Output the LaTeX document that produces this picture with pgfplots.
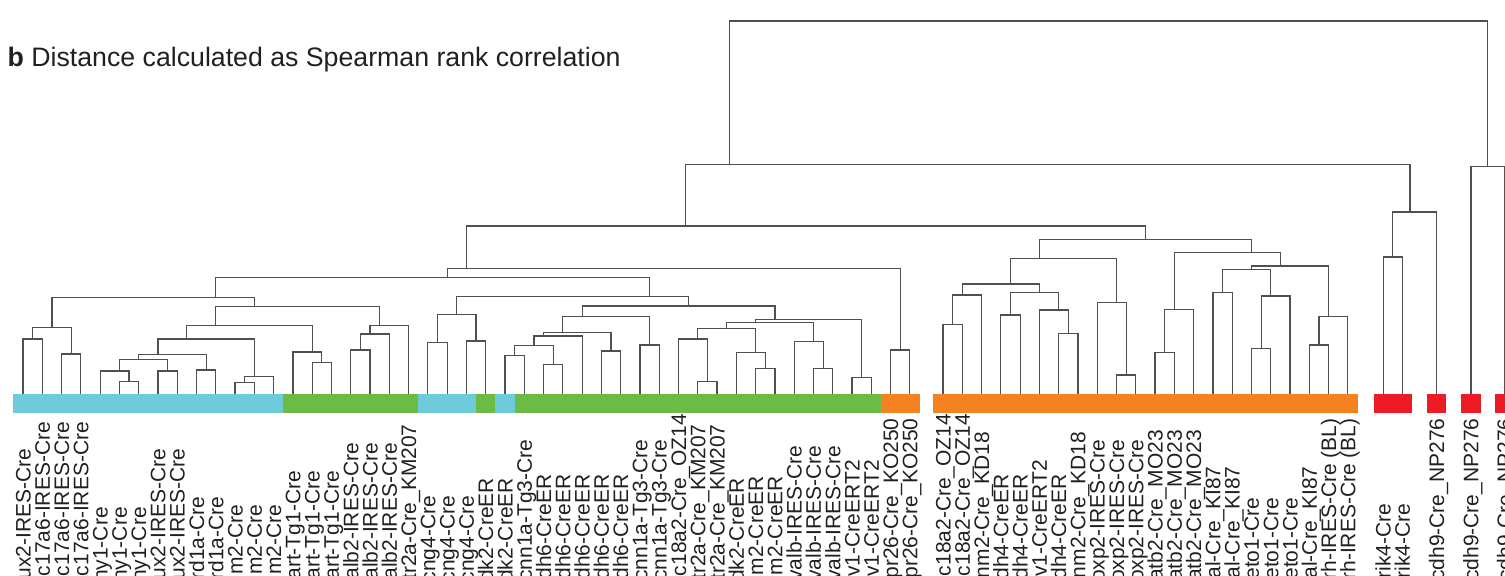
\documentclass[border=0pt]{standalone}
\usepackage{fontspec}
\setmainfont{Liberation Sans}
\usepackage{pgfplots}
\pgfplotsset{compat=1.18}
\definecolor{cyanc}{RGB}{109,203,220}
\definecolor{greenc}{RGB}{108,187,69}
\definecolor{orangec}{RGB}{245,130,33}
\definecolor{redc}{RGB}{237,28,36}
\definecolor{treec}{RGB}{80,80,80}
\definecolor{txtc}{RGB}{35,31,32}
\newcommand\lab{\fontsize{21bp}{25bp}\selectfont}
\newcommand\ttl{\fontsize{26.7bp}{30bp}\selectfont}
\begin{document}
\begin{tikzpicture}
\path[use as bounding box] (0,0) rectangle (1505bp,576bp);
\begin{axis}[at={(0,0)}, anchor=south west, x=19.28bp, y=1bp,
  xmin=-0.1929, xmax=77.867, ymin=0, ymax=576, y dir=reverse,
  hide axis, clip=false,
  tree/.style={draw=treec, line width=1.2bp, line join=miter}]
% colour bar
\addplot[fill=cyanc, draw=none] coordinates {(0.5,394)(14.5,394)(14.5,412.5)(0.5,412.5)};
\addplot[fill=greenc, draw=none] coordinates {(14.5,394)(21.5,394)(21.5,412.5)(14.5,412.5)};
\addplot[fill=cyanc, draw=none] coordinates {(21.5,394)(24.5,394)(24.5,412.5)(21.5,412.5)};
\addplot[fill=greenc, draw=none] coordinates {(24.5,394)(25.5,394)(25.5,412.5)(24.5,412.5)};
\addplot[fill=cyanc, draw=none] coordinates {(25.5,394)(26.5,394)(26.5,412.5)(25.5,412.5)};
\addplot[fill=greenc, draw=none] coordinates {(26.5,394)(45.5,394)(45.5,412.5)(26.5,412.5)};
\addplot[fill=orangec, draw=none] coordinates {(45.5,394)(47.5,394)(47.5,412.5)(45.5,412.5)};
\addplot[fill=orangec, draw=none] coordinates {(48.218,394)(70.218,394)(70.218,412.5)(48.218,412.5)};
\addplot[fill=redc, draw=none] coordinates {(71.05,394)(73.05,394)(73.05,412.5)(71.05,412.5)};
\addplot[fill=redc, draw=none] coordinates {(73.82,394)(74.82,394)(74.82,412.5)(73.82,412.5)};
\addplot[fill=redc, draw=none] coordinates {(75.6,394)(76.6,394)(76.6,412.5)(75.6,412.5)};
\addplot[fill=redc, draw=none] coordinates {(77.35,394)(78.35,394)(78.35,412.5)(77.35,412.5)};
% section A
\addplot[tree] coordinates {(1,394)(1,339)(2,339)(2,394)};
\addplot[tree] coordinates {(3,394)(3,354)(4,354)(4,394)};
\addplot[tree] coordinates {(1.5,339)(1.5,327.3)(3.5,327.3)(3.5,354)};
\addplot[tree] coordinates {(6,394)(6,381.7)(7,381.7)(7,394)};
\addplot[tree] coordinates {(5,394)(5,371)(6.5,371)(6.5,381.7)};
\addplot[tree] coordinates {(8,394)(8,371)(9,371)(9,394)};
\addplot[tree] coordinates {(6,371)(6,359.3)(8.5,359.3)(8.5,371)};
\addplot[tree] coordinates {(10,394)(10,370)(11,370)(11,394)};
\addplot[tree] coordinates {(7,359.3)(7,354.3)(10.5,354.3)(10.5,370)};
\addplot[tree] coordinates {(12,394)(12,382.3)(13,382.3)(13,394)};
\addplot[tree] coordinates {(12.5,382.3)(12.5,376.3)(14,376.3)(14,394)};
\addplot[tree] coordinates {(8,354.3)(8,339)(13,339)(13,376.3)};
\addplot[tree] coordinates {(16,394)(16,362.7)(17,362.7)(17,394)};
\addplot[tree] coordinates {(15,394)(15,352)(16.5,352)(16.5,362.7)};
\addplot[tree] coordinates {(9.5,339)(9.5,325.7)(16,325.7)(16,352)};
\addplot[tree] coordinates {(18,394)(18,350)(19,350)(19,394)};
\addplot[tree] coordinates {(18.5,350)(18.5,334)(20,334)(20,394)};
\addplot[tree] coordinates {(19,334)(19,325.7)(21,325.7)(21,394)};
\addplot[tree] coordinates {(11,325.7)(11,306.7)(19.5,306.7)(19.5,325.7)};
\addplot[tree] coordinates {(2.5,327.3)(2.5,297.3)(13,297.3)(13,306.7)};
\addplot[tree] coordinates {(22,394)(22,342.7)(23,342.7)(23,394)};
\addplot[tree] coordinates {(24,394)(24,341)(25,341)(25,394)};
\addplot[tree] coordinates {(22.5,342.7)(22.5,314.7)(24.5,314.7)(24.5,341)};
\addplot[tree] coordinates {(26,394)(26,355.3)(27,355.3)(27,394)};
\addplot[tree] coordinates {(28,394)(28,364.3)(29,364.3)(29,394)};
\addplot[tree] coordinates {(26.5,355.3)(26.5,345.7)(28.5,345.7)(28.5,364.3)};
\addplot[tree] coordinates {(27.5,345.7)(27.5,336)(30,336)(30,394)};
\addplot[tree] coordinates {(31,394)(31,351)(32,351)(32,394)};
\addplot[tree] coordinates {(28,336)(28,332.3)(31.5,332.3)(31.5,351)};
\addplot[tree] coordinates {(33,394)(33,345)(34,345)(34,394)};
\addplot[tree] coordinates {(29,332.3)(29,316.7)(33.5,316.7)(33.5,345)};
\addplot[tree] coordinates {(36,394)(36,381.7)(37,381.7)(37,394)};
\addplot[tree] coordinates {(35,394)(35,339)(36.5,339)(36.5,381.7)};
\addplot[tree] coordinates {(39,394)(39,368.3)(40,368.3)(40,394)};
\addplot[tree] coordinates {(38,394)(38,352.3)(39.5,352.3)(39.5,368.3)};
\addplot[tree] coordinates {(36,339)(36,328.3)(39,328.3)(39,352.3)};
\addplot[tree] coordinates {(42,394)(42,368.3)(43,368.3)(43,394)};
\addplot[tree] coordinates {(41,394)(41,341.7)(42.5,341.7)(42.5,368.3)};
\addplot[tree] coordinates {(37.5,328.3)(37.5,322.7)(42,322.7)(42,341.7)};
\addplot[tree] coordinates {(44,394)(44,377.3)(45,377.3)(45,394)};
\addplot[tree] coordinates {(39,322.7)(39,319.3)(44.5,319.3)(44.5,377.3)};
\addplot[tree] coordinates {(30,316.7)(30,306)(40,306)(40,319.3)};
\addplot[tree] coordinates {(23.5,314.7)(23.5,296.7)(35.5,296.7)(35.5,306)};
\addplot[tree] coordinates {(11,297.3)(11,277.7)(33.5,277.7)(33.5,296.7)};
\addplot[tree] coordinates {(46,394)(46,350)(47,350)(47,394)};
\addplot[tree] coordinates {(23,277.7)(23,268.7)(46.5,268.7)(46.5,350)};
% section B
\addplot[tree] coordinates {(48.718,394)(48.718,324.3)(49.718,324.3)(49.718,394)};
\addplot[tree] coordinates {(49.218,324.3)(49.218,295)(50.718,295)(50.718,394)};
\addplot[tree] coordinates {(51.718,394)(51.718,315)(52.718,315)(52.718,394)};
\addplot[tree] coordinates {(54.718,394)(54.718,333.3)(55.718,333.3)(55.718,394)};
\addplot[tree] coordinates {(53.718,394)(53.718,310)(55.218,310)(55.218,333.3)};
\addplot[tree] coordinates {(52.218,315)(52.218,292.7)(54.718,292.7)(54.718,310)};
\addplot[tree] coordinates {(49.718,295)(49.718,284)(53.718,284)(53.718,292.7)};
\addplot[tree] coordinates {(57.718,394)(57.718,375)(58.718,375)(58.718,394)};
\addplot[tree] coordinates {(56.718,394)(56.718,302.7)(58.218,302.7)(58.218,375)};
\addplot[tree] coordinates {(52.218,284)(52.218,258.3)(57.718,258.3)(57.718,302.7)};
\addplot[tree] coordinates {(59.718,394)(59.718,352.3)(60.718,352.3)(60.718,394)};
\addplot[tree] coordinates {(60.218,352.3)(60.218,309.3)(61.718,309.3)(61.718,394)};
\addplot[tree] coordinates {(62.718,394)(62.718,292.7)(63.718,292.7)(63.718,394)};
\addplot[tree] coordinates {(64.718,394)(64.718,348.3)(65.718,348.3)(65.718,394)};
\addplot[tree] coordinates {(65.218,348.3)(65.218,296)(66.718,296)(66.718,394)};
\addplot[tree] coordinates {(63.218,292.7)(63.218,269.3)(65.718,269.3)(65.718,296)};
\addplot[tree] coordinates {(67.718,394)(67.718,345)(68.718,345)(68.718,394)};
\addplot[tree] coordinates {(68.218,345)(68.218,316.7)(69.718,316.7)(69.718,394)};
\addplot[tree] coordinates {(64.718,269.3)(64.718,266)(68.718,266)(68.718,316.7)};
\addplot[tree] coordinates {(60.718,309.3)(60.718,252.3)(66.218,252.3)(66.218,266)};
\addplot[tree] coordinates {(53.718,258.3)(53.718,239.3)(64.718,239.3)(64.718,252.3)};
% top levels
\addplot[tree] coordinates {(24,268.7)(24,226)(59.218,226)(59.218,239.3)};
\addplot[tree] coordinates {(71.55,394)(71.55,257)(72.55,257)(72.55,394)};
\addplot[tree] coordinates {(72.05,257)(72.05,212)(74.32,212)(74.32,394)};
\addplot[tree] coordinates {(35.359,226)(35.359,164.7)(72.935,164.7)(72.935,212)};
\addplot[tree] coordinates {(76.1,394)(76.1,166.3)(77.85,166.3)(77.85,394)};
\addplot[tree] coordinates {(37.66,164.7)(37.66,21)(76.975,21)(76.975,166.3)};
\end{axis}
\begin{scope}[x=1bp, y=1bp]
\node[anchor=base west, inner sep=0pt, text=txtc, font=\ttl] at (7.5,509.3) {\textbf{b} Distance calculated as Spearman rank correlation};
\foreach \p/\t in {1/Cux2-IRES-Cre, 2/Slc17a6-IRES-Cre, 3/Slc17a6-IRES-Cre, 4/Slc17a6-IRES-Cre,
  5/Thy1-Cre, 6/Thy1-Cre, 7/Thy1-Cre, 8/Cux2-IRES-Cre, 9/Cux2-IRES-Cre,
  10/Drd1a-Cre, 11/Drd1a-Cre, 12/\hspace*{0.95em}m2-Cre, 13/\hspace*{0.95em}m2-Cre, 14/\hspace*{0.95em}m2-Cre,
  15/Cart-Tg1-Cre, 16/Cart-Tg1-Cre, 17/Cart-Tg1-Cre,
  18/Calb2-IRES-Cre, 19/Calb2-IRES-Cre, 20/Calb2-IRES-Cre, 21/Htr2a-Cre\_KM207,
  22/\hspace*{0.6em}cng4-Cre, 23/\hspace*{0.6em}cng4-Cre, 24/\hspace*{0.6em}cng4-Cre,
  25/\hspace*{0.61em}dk2-CreER, 26/\hspace*{0.61em}dk2-CreER, 27/Scnn1a-Tg3-Cre,
  28/Cdh6-CreER, 29/Cdh6-CreER, 30/Cdh6-CreER, 31/Cdh6-CreER, 32/Cdh6-CreER,
  33/Scnn1a-Tg3-Cre, 34/Scnn1a-Tg3-Cre, 35/Slc18a2-Cre\_OZ14,
  36/Htr2a-Cre\_KM207, 37/Htr2a-Cre\_KM207, 38/\hspace*{0.61em}dk2-CreER,
  39/\hspace*{0.93em}m2-CreER, 40/\hspace*{0.93em}m2-CreER,
  41/Pvalb-IRES-Cre, 42/Pvalb-IRES-Cre, 43/Pvalb-IRES-Cre,
  44/\hspace*{0.87em}v1-CreERT2, 45/\hspace*{0.87em}v1-CreERT2,
  46/Gpr26-Cre\_KO250, 47/Gpr26-Cre\_KO250,
  48.718/Slc18a2-Cre\_OZ14, 49.718/Slc18a2-Cre\_OZ14, 50.718/\hspace*{0.8em}nm2-Cre\_KD18,
  51.718/Cdh4-CreER, 52.718/Cdh4-CreER, 53.718/\hspace*{0.87em}v1-CreERT2,
  54.718/Cdh4-CreER, 55.718/\hspace*{0.8em}nm2-Cre\_KD18,
  56.718/Foxp2-IRES-Cre, 57.718/Foxp2-IRES-Cre, 58.718/Foxp2-IRES-Cre,
  59.718/Satb2-Cre\_MO23, 60.718/Satb2-Cre\_MO23, 61.718/Satb2-Cre\_MO23,
  62.718/Gal-Cre\_KI87, 63.718/Gal-Cre\_KI87,
  64.718/Neto1-Cre, 65.718/Neto1-Cre, 66.718/Neto1-Cre, 67.718/Gal-Cre\_KI87,
  68.718/Crh-IRES-Cre (BL), 69.718/Crh-IRES-Cre (BL),
  71.55/Grik4-Cre, 72.55/Grik4-Cre,
  74.32/Pcdh9-Cre\_NP276, 76.1/Pcdh9-Cre\_NP276, 77.85/Pcdh9-Cre\_NP276}
  {\node[rotate=90, anchor=base west, inner sep=0pt, text=txtc, font=\lab] at ({23+(\p-1)*19.28+7.5}, -19) {\t};}
\end{scope}
\end{tikzpicture}
\end{document}
